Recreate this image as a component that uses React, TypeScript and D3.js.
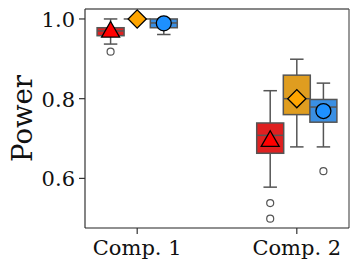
import React from "react";
import * as d3 from "d3";

const categories = ["Comp. 1", "Comp. 2"];
const methods = ["A", "B", "C"];
const boxColors = ["#df2020", "#df9d20", "#3a8fe3"];
const markerColors = ["#ff0000", "#ffa500", "#1e90ff"];
const markerShapes = ["triangle", "diamond", "circle"];

// stats indexed [category][method]
const whiskerLow = [[0.937, 1.0, 0.961], [0.578, 0.679, 0.679]];
const q1 = [[0.958, 1.0, 0.978], [0.663, 0.76, 0.741]];
const median = [[0.97, 1.0, 0.99], [0.708, 0.8, 0.779]];
const q3 = [[0.978, 1.0, 1.0], [0.739, 0.859, 0.798]];
const whiskerHigh = [[1.0, 1.0, 1.0], [0.82, 0.899, 0.839]];
const means = [[0.97, 1.0, 0.989], [0.696, 0.8, 0.769]];
const outliers = [[[0.918], [], []], [[0.538, 0.499], [], [0.618]]];

const yTicks = [0.6, 0.8, 1.0];

const W = 358, H = 268;
const L = 85, R = 349, T = 9, B = 228;

export default function App() {
  const x = d3.scaleLinear().domain([-0.327, 1.327]).range([L, R]);
  const y = d3.scaleLinear().domain([0.4755, 1.025]).range([B, T]);
  const dodge = 1 / 6;
  const bw = x(0.169) - x(0);
  const lineCol = "#555";
  const font = "DejaVu Serif, serif";

  const marker = (shape: string, cx: number, cy: number, fill: string, key: string) => {
    if (shape === "circle")
      return <circle key={key} cx={cx} cy={cy} r={7.5} fill={fill} stroke="#000" strokeWidth={1.3} />;
    if (shape === "triangle") {
      const sym = d3.symbol().type(d3.symbolTriangle).size(140)();
      return <path key={key} d={sym as string} transform={`translate(${cx},${cy + 1})`} fill={fill} stroke="#000" strokeWidth={1.3} />;
    }
    const sym = d3.symbol().type(d3.symbolSquare).size(165)();
    return <path key={key} d={sym as string} transform={`translate(${cx},${cy}) rotate(45)`} fill={fill} stroke="#000" strokeWidth={1.3} />;
  };

  return (
    <svg width={W} height={H} style={{ position: "absolute", left: 0, top: 0, background: "#fff" }}>
      {categories.map((c, ci) =>
        methods.map((m, mi) => {
          const cx = x(ci + (mi - 1) * dodge);
          const x0 = cx - bw / 2;
          const cap = bw / 4;
          return (
            <g key={`${ci}-${mi}`}>
              <line x1={cx} x2={cx} y1={y(q3[ci][mi])} y2={y(whiskerHigh[ci][mi])} stroke={lineCol} strokeWidth={1.5} />
              <line x1={cx} x2={cx} y1={y(q1[ci][mi])} y2={y(whiskerLow[ci][mi])} stroke={lineCol} strokeWidth={1.5} />
              <line x1={cx - cap} x2={cx + cap} y1={y(whiskerHigh[ci][mi])} y2={y(whiskerHigh[ci][mi])} stroke={lineCol} strokeWidth={1.5} />
              <line x1={cx - cap} x2={cx + cap} y1={y(whiskerLow[ci][mi])} y2={y(whiskerLow[ci][mi])} stroke={lineCol} strokeWidth={1.5} />
              <rect x={x0} y={y(q3[ci][mi])} width={bw} height={Math.max(0, y(q1[ci][mi]) - y(q3[ci][mi]))} fill={boxColors[mi]} stroke={lineCol} strokeWidth={1.5} />
              <line x1={x0} x2={x0 + bw} y1={y(median[ci][mi])} y2={y(median[ci][mi])} stroke={lineCol} strokeWidth={1.5} />
              {outliers[ci][mi].map((o, oi) => (
                <circle key={oi} cx={cx} cy={y(o)} r={3.5} fill="none" stroke={lineCol} strokeWidth={1.2} />
              ))}
            </g>
          );
        })
      )}
      {categories.map((c, ci) =>
        methods.map((m, mi) => marker(markerShapes[mi], x(ci + (mi - 1) * dodge), y(means[ci][mi]), markerColors[mi], `m${ci}-${mi}`))
      )}
      {/* spines */}
      <line x1={L} x2={R} y1={T} y2={T} stroke="#111" strokeWidth={1.2} />
      <line x1={R} x2={R} y1={T} y2={B} stroke="#555" strokeWidth={1.2} />
      <line x1={L} x2={L} y1={T} y2={B} stroke="#333" strokeWidth={1.2} />
      <line x1={L} x2={R} y1={B} y2={B} stroke="#222" strokeWidth={1.2} />
      {/* y ticks */}
      {yTicks.map((t) => (
        <g key={t}>
          <line x1={L - 6} x2={L} y1={y(t)} y2={y(t)} stroke="#333" strokeWidth={1.2} />
          <text x={L - 10} y={y(t) + 1} textAnchor="end" dominantBaseline="central" fontFamily={font} fontSize={21} fill="#111">
            {d3.format(".1f")(t)}
          </text>
        </g>
      ))}
      {/* x ticks */}
      {categories.map((c, ci) => (
        <g key={c}>
          <line x1={x(ci)} x2={x(ci)} y1={B} y2={B + 6} stroke="#333" strokeWidth={1.2} />
          <text x={x(ci)} y={255} textAnchor="middle" fontFamily={font} fontSize={21} fill="#111">
            {c}
          </text>
        </g>
      ))}
      <text transform={`translate(32, ${(T + B) / 2}) rotate(-90)`} textAnchor="middle" fontFamily={font} fontSize={27.5} fill="#111">
        Power
      </text>
    </svg>
  );
}
